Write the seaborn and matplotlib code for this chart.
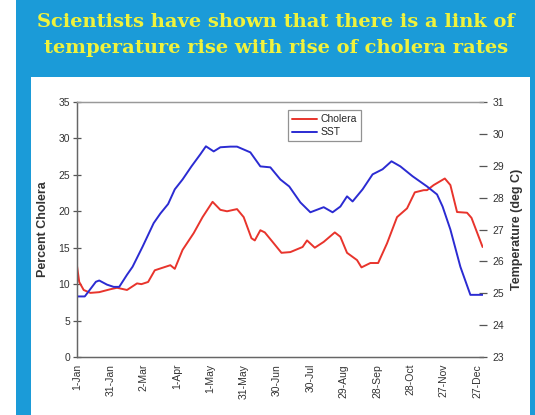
import numpy as np
import pandas as pd
import matplotlib
matplotlib.use('Agg')
import matplotlib.pyplot as plt
from matplotlib.patches import Rectangle
import seaborn as sns

# Day of year (0 = 1-Jan) and values
sst_days = [0, 7, 17, 20, 27, 33, 38, 45, 50, 59, 69, 75, 82, 88, 95, 103, 111, 116,
            123, 129, 138, 144, 156, 165, 174, 183, 191, 201, 210, 222, 230, 237, 243,
            248, 257, 266, 275, 283, 291, 302, 315, 324, 329, 336, 345, 354, 365]
sst_temp = [24.9, 24.9, 25.36, 25.4, 25.27, 25.2, 25.2, 25.58, 25.83, 26.46, 27.2, 27.5,
            27.8, 28.26, 28.57, 28.98, 29.36, 29.61, 29.45, 29.58, 29.6, 29.6, 29.42,
            28.98, 28.95, 28.57, 28.35, 27.85, 27.54, 27.7, 27.54, 27.72, 28.04, 27.88,
            28.26, 28.73, 28.89, 29.14, 28.98, 28.67, 28.35, 28.1, 27.72, 27.0, 25.83,
            24.95, 24.95]

chol_days = [0, 2, 6, 12, 20, 30, 36, 45, 54, 58, 64, 70, 78, 84, 88, 95, 105, 113,
             122, 129, 135, 144, 150, 157, 160, 165, 169, 176, 184, 192, 203, 207, 214,
             222, 232, 237, 243, 252, 256, 264, 271, 279, 288, 297, 304, 312, 315, 321,
             331, 336, 342, 351, 355, 365]
chol_pct = [12.5, 10.3, 9.2, 8.8, 8.9, 9.3, 9.5, 9.2, 10.1, 10.0, 10.3, 11.9, 12.3,
            12.6, 12.1, 14.7, 17.0, 19.2, 21.3, 20.2, 20.0, 20.3, 19.2, 16.3, 16.0,
            17.4, 17.1, 15.8, 14.3, 14.4, 15.1, 16.0, 15.0, 15.8, 17.1, 16.5, 14.3,
            13.3, 12.3, 12.9, 12.9, 15.6, 19.2, 20.4, 22.6, 22.9, 22.9, 23.6, 24.5,
            23.6, 19.9, 19.8, 19.1, 15.1]

tick_days = [0, 30, 60, 90, 120, 150, 180, 210, 240, 270, 300, 330, 360]
tick_labels = ['1-Jan', '31-Jan', '2-Mar', '1-Apr', '1-May', '31-May', '30-Jun',
               '30-Jul', '29-Aug', '28-Sep', '28-Oct', '27-Nov', '27-Dec']

title = 'Scientists have shown that there is a link of\ntemperature rise with rise of cholera rates'

sns.set_style('white')
plt.rcParams['font.family'] = ['Liberation Sans', 'DejaVu Sans']

W, H = 535, 415
fig = plt.figure(figsize=(W / 100, H / 100), dpi=100)
fig.patch.set_facecolor('white')

# blue slide frame (behind the axes)
frame_blue = '#1b9bd8'
fig.patches.append(Rectangle((16 / W, 0), 1 - 16 / W, 1, transform=fig.transFigure,
                             facecolor=frame_blue, edgecolor='none', zorder=-10))
fig.patches.append(Rectangle((31 / W, 0), (530 - 31) / W, 1 - 77 / H, transform=fig.transFigure,
                             facecolor='white', edgecolor='none', zorder=-9))

fig.text(276 / W, 1 - 35 / H, title, ha='center', va='center', color='#f0f23c',
         fontsize=14, fontweight='bold', family='DejaVu Serif', linespacing=1.6)

ax = fig.add_axes([77 / W, 1 - 357 / H, (482.6 - 77) / W, (357 - 102) / H])
ax2 = ax.twinx()

chol_df = pd.DataFrame({'day': chol_days, 'pct': chol_pct})
sst_df = pd.DataFrame({'day': sst_days, 'temp': sst_temp})

sns.lineplot(data=chol_df, x='day', y='pct', ax=ax, color='#e8342c', lw=1.4, legend=False)
sns.lineplot(data=sst_df, x='day', y='temp', ax=ax2, color='#2b2bd2', lw=1.4, legend=False)

ax.set_xlim(0, 365)
ax.set_ylim(0, 35)
ax2.set_ylim(23, 31)
ax.set_yticks(range(0, 36, 5))
ax2.set_yticks(range(23, 32))
ax.set_xticks(tick_days)
ax.set_xticklabels(tick_labels, rotation=90)

for a in (ax, ax2):
    a.set_facecolor('none')
    for s in a.spines.values():
        s.set_color('#666666')
        s.set_linewidth(0.9)
    a.spines['right'].set_visible(False)
    a.spines['top'].set_color('#999999')
ax.tick_params(axis='both', direction='inout', length=6, width=0.9, color='#555555',
               labelsize=7.5, labelcolor='#333333', pad=2)
ax2.tick_params(axis='y', direction='inout', length=6, width=0.9, color='#555555',
                labelsize=7.5, labelcolor='#333333', pad=4)

ax.set_xlabel('')
ax.set_ylabel('Percent Cholera', fontsize=9, fontweight='bold', color='#333333', labelpad=7)
ax2.set_ylabel('Temperature (deg C)', fontsize=9, fontweight='bold', color='#333333', labelpad=5)

h1 = plt.Line2D([], [], color='#e8342c', lw=1.4)
h2 = plt.Line2D([], [], color='#2b2bd2', lw=1.4)
leg = ax2.legend([h1, h2], ['Cholera', 'SST'], loc='upper left',
                 bbox_to_anchor=((288 - 77) / 405.6, (357 - 110) / 255), fontsize=7.5,
                 frameon=True, fancybox=False, handlelength=2.4, handletextpad=0.3,
                 borderpad=0.4, labelspacing=0.3, borderaxespad=0)
leg.get_frame().set_edgecolor('#777777')
leg.get_frame().set_linewidth(0.9)

fig.savefig('out.png', dpi=100)
